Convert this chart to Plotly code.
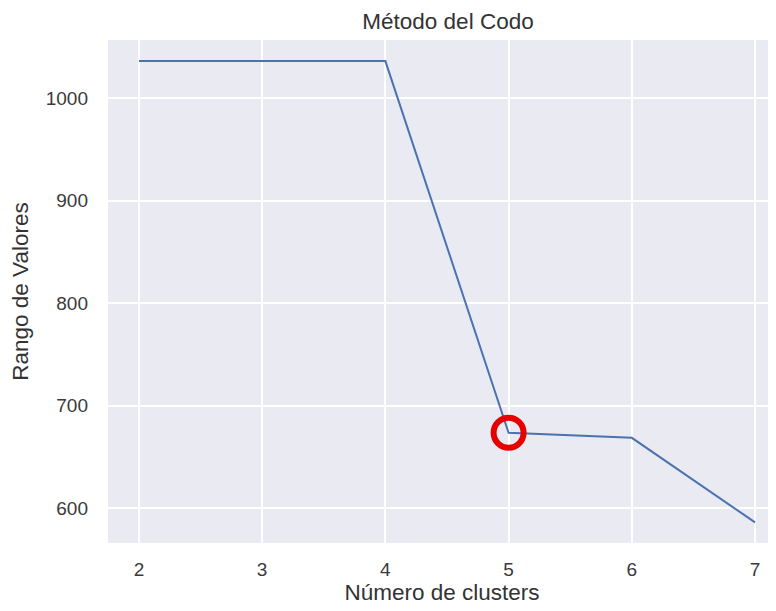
import plotly.graph_objects as go

clusters = [2, 3, 4, 5, 6, 7]
valores = [1036, 1036, 1036, 673.5, 668.5, 586]
codo_x = [5]
codo_y = [673.5]
x_ticks = [2, 3, 4, 5, 6, 7]
y_ticks = [600, 700, 800, 900, 1000]

font_family = "Liberation Sans, Arial, sans-serif"
tick_color = "#3a3a3a"

fig = go.Figure()
fig.add_trace(go.Scatter(
    x=clusters, y=valores, mode="lines",
    line=dict(color="#4C72B0", width=2),
    showlegend=False, hoverinfo="skip",
))
fig.add_trace(go.Scatter(
    x=codo_x, y=codo_y, mode="markers",
    marker=dict(symbol="circle-open", size=30, color="#e60000",
                line=dict(color="#e60000", width=6)),
    showlegend=False, hoverinfo="skip",
))

fig.update_layout(
    width=776, height=611,
    margin=dict(l=100, r=8, t=32, b=76),
    paper_bgcolor="white",
    plot_bgcolor="#EAEAF2",
    font=dict(family=font_family, size=19, color=tick_color),
    title=dict(text="Método del Codo", x=440/776, xref="container", xanchor="center",
               y=1 - 13/611, yref="container", yanchor="middle",
               font=dict(size=22.5, color="#333333")),
)
fig.update_xaxes(
    range=[1.749, 7.17], tickvals=x_ticks, ticktext=[str(v) for v in x_ticks],
    showgrid=True, gridcolor="white", gridwidth=1.5, zeroline=False,
    showline=False, ticks="", ticklabelstandoff=13,
    title=dict(text="Número de clusters", font=dict(size=22.5, color="#333333"), standoff=4),
    tickfont=dict(size=19, color=tick_color),
)
fig.update_yaxes(
    range=[565.9, 1056.6], tickvals=y_ticks, ticktext=[str(v) for v in y_ticks],
    showgrid=True, gridcolor="white", gridwidth=1.5, zeroline=False,
    showline=False, ticks="", ticklabelstandoff=19,
    title=dict(text="Rango de Valores", font=dict(size=22.5, color="#333333"), standoff=12),
    tickfont=dict(size=19, color=tick_color),
)

fig.write_html("out.html")
